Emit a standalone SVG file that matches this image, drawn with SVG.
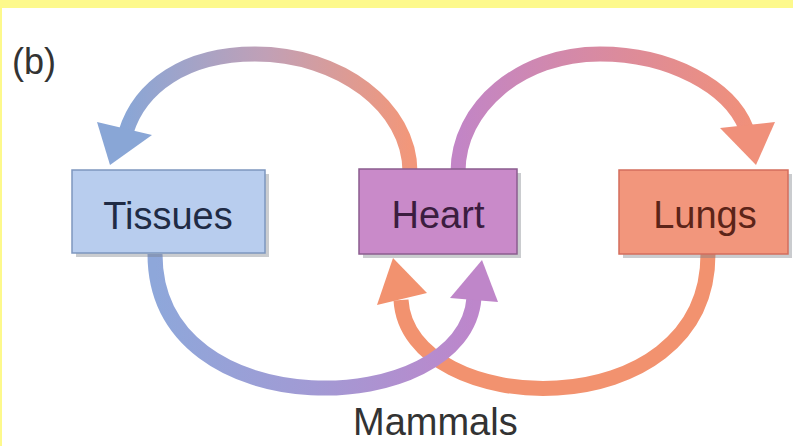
<svg xmlns="http://www.w3.org/2000/svg" width="793" height="446" viewBox="0 0 793 446">
  <defs>
    <linearGradient id="gTL" gradientUnits="userSpaceOnUse" x1="124" y1="0" x2="410" y2="0">
      <stop offset="0" stop-color="#89a6d6"/>
      <stop offset="0.5" stop-color="#c1a0b6"/>
      <stop offset="1" stop-color="#f2977a"/>
    </linearGradient>
    <linearGradient id="gTR" gradientUnits="userSpaceOnUse" x1="458" y1="0" x2="750" y2="0">
      <stop offset="0" stop-color="#c285c6"/>
      <stop offset="1" stop-color="#f0907a"/>
    </linearGradient>
    <linearGradient id="gBL" gradientUnits="userSpaceOnUse" x1="155" y1="0" x2="474" y2="0">
      <stop offset="0" stop-color="#8ea7da"/>
      <stop offset="0.5" stop-color="#a29ad4"/>
      <stop offset="1" stop-color="#bd86cb"/>
    </linearGradient>
  </defs>
  <style>
    .arc { fill: none; stroke-width: 15; }
    .shadow { fill: #7a7f88; opacity: 0.4; }
    .box { stroke-width: 1.5; }
    .lbl { font-family: "Liberation Sans", Arial, sans-serif; font-size: 38px; text-anchor: middle; }
    .cap { font-family: "Liberation Sans", Arial, sans-serif; fill: #333333; }
  </style>
  <rect x="0" y="0" width="793" height="446" fill="#ffffff"/>
  <rect x="0" y="0" width="793" height="8" fill="#fdf98c"/>
  <rect x="0" y="0" width="2" height="446" fill="#fdf98c"/>

  <text class="cap" x="12" y="74" font-size="36">(b)</text>

  <g id="connectors">
    <path class="arc" stroke="url(#gTL)" d="M 410 172 C 410 107, 340 54, 255 54 C 185 54, 140 87, 126 132"/>
    <polygon fill="#89a6d6" points="97,122 152,135 110,165"/>
    <path class="arc" stroke="url(#gTR)" d="M 458 172 C 458 107, 521 54, 600 54 C 670 54, 730 87, 746 128"/>
    <polygon fill="#f0907a" points="720,128 775,122 756,165"/>
    <path class="arc" stroke="#f2926f" d="M 708 254 C 708 430, 408 420, 401 300"/>
    <polygon fill="#f2926f" points="377,305 427,293 393,258"/>
    <path class="arc" stroke="url(#gBL)" d="M 155 254 C 155 430, 465 420, 474 298"/>
    <polygon fill="#bf86c9" points="450,298 498,302 482,260"/>
  </g>

  <g id="tissues">
    <rect class="shadow" x="76" y="174" width="193" height="83"/>
    <rect class="box" x="72" y="170" width="193" height="83" fill="#b8cdee" stroke="#7d96bf"/>
    <text class="lbl" x="168" y="229" fill="#1f2b45">Tissues</text>
  </g>
  <g id="heart">
    <rect class="shadow" x="363" y="173" width="158" height="85"/>
    <rect class="box" x="359" y="169" width="158" height="85" fill="#c98ac9" stroke="#8b5c8f"/>
    <text class="lbl" x="438" y="228" fill="#3b1d3f">Heart</text>
  </g>
  <g id="lungs">
    <rect class="shadow" x="623" y="174" width="169" height="84"/>
    <rect class="box" x="619" y="170" width="169" height="84" fill="#f2967c" stroke="#d46d5c"/>
    <text class="lbl" x="705" y="228" fill="#5c2418">Lungs</text>
  </g>

  <text class="cap" x="353" y="435" font-size="38">Mammals</text>
</svg>
